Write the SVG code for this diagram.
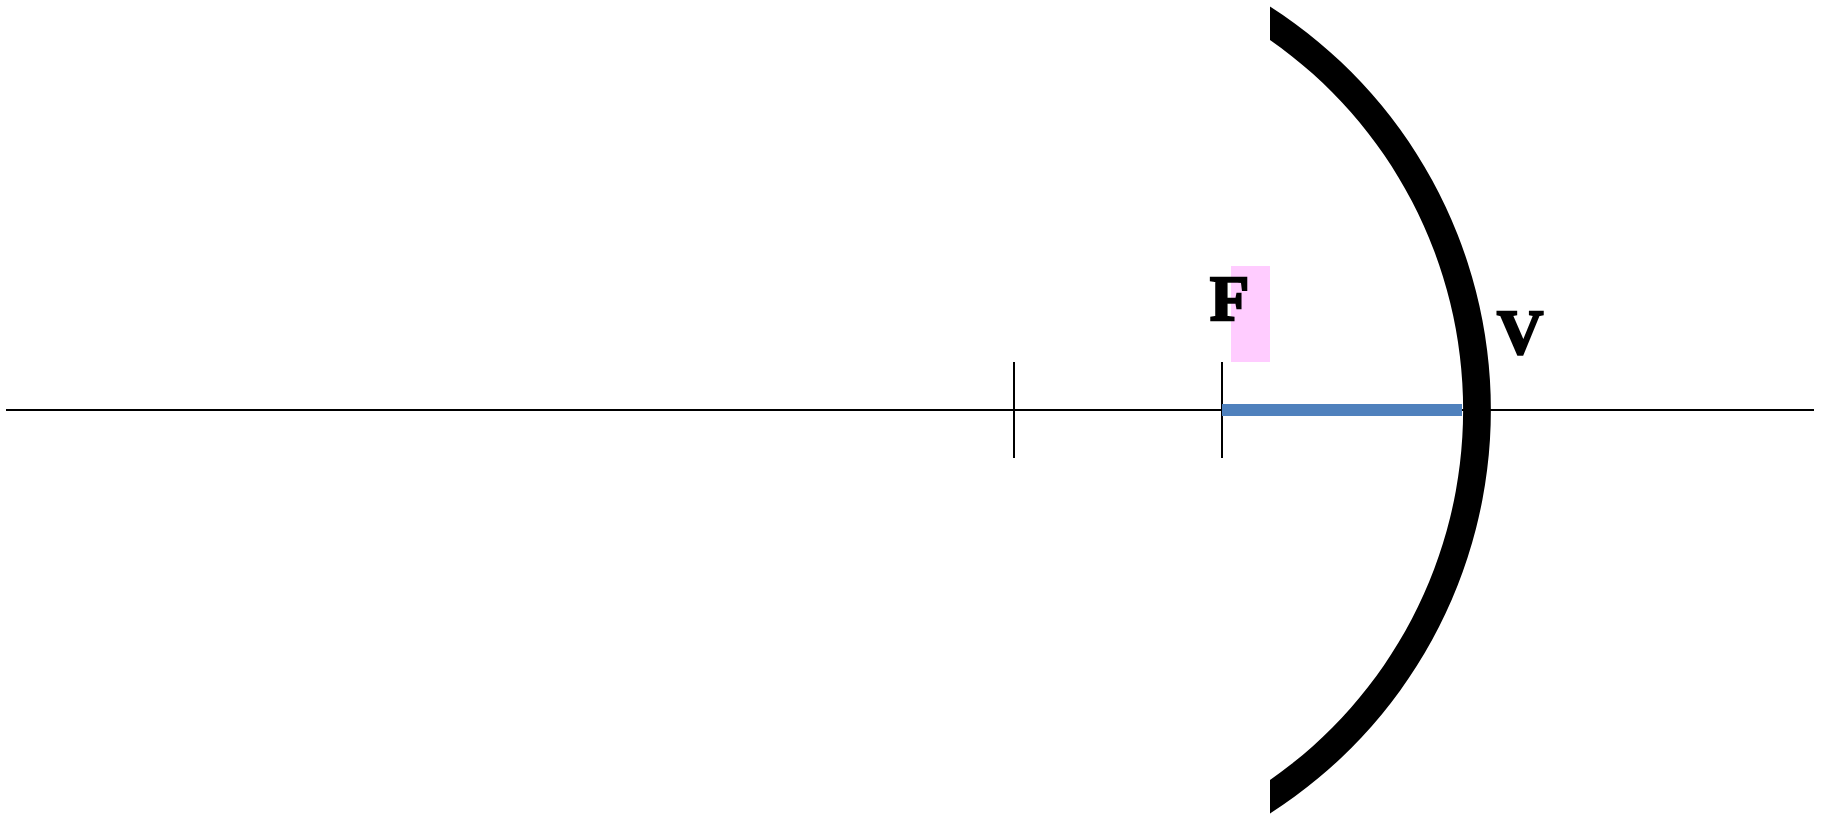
<svg xmlns="http://www.w3.org/2000/svg" width="1822" height="815" viewBox="0 0 1822 815">
<style>
.ln{stroke:#000;stroke-width:2;fill:none}
.lbl{font-family:"Liberation Serif","Times New Roman",serif;font-weight:bold;font-size:64px;fill:#000;stroke:#000;stroke-width:2.5;stroke-linejoin:miter}
</style>
<rect width="1822" height="815" fill="#fff"/>
<g id="connectors">
<line class="ln" x1="6" y1="410" x2="1814" y2="410"/>
<line class="ln" x1="1014" y1="362" x2="1014" y2="458"/>
<line class="ln" x1="1222" y1="362" x2="1222" y2="458"/>
</g>
<g id="focal-highlight">
<rect x="1231" y="266" width="39" height="96" fill="#FFCCFF"/>
</g>
<g id="focal-length">
<rect x="1222" y="404" width="240" height="12" fill="#4F81BD"/>
</g>
<g id="mirror">
<path d="M1270,6.5 A479,479 0 0 1 1270,813.5 L1270,780 A451,451 0 0 0 1270,40 Z" fill="#000"/>
</g>
<g id="label-F">
<text class="lbl" x="1210" y="320">F</text>
</g>
<g id="label-V">
<text class="lbl" x="1497" y="354">V</text>
</g>
</svg>
